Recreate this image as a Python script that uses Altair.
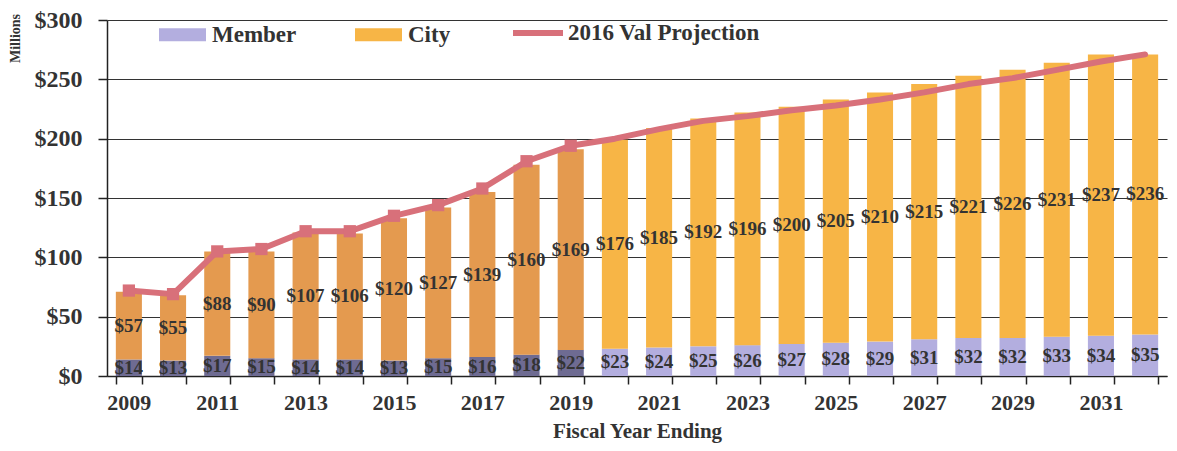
import altair as alt
import pandas as pd

years = [str(y) for y in range(2009, 2033)]
member = [14, 13, 17, 15, 14, 14, 13, 15, 16, 18, 22, 23, 24, 25, 26, 27, 28, 29, 31, 32, 32, 33, 34, 35]
city = [57, 55, 88, 90, 107, 106, 120, 127, 139, 160, 169, 176, 185, 192, 196, 200, 205, 210, 215, 221, 226, 231, 237, 236]
projection = [72, 69, 105, 107, 122, 122, 135, 144, 158, 181, 194, 200, 208, 215, 219, 224, 228, 233, 239, 246, 251, 258, 265, 271]
last_actual_year = 2019
y_ticks = [0, 50, 100, 150, 200, 250, 300]

FONT = "Liberation Serif"
TXT = "#333333"
LINE_COLOR = "#D8707A"

rows = []
for i, yr in enumerate(years):
    act = int(yr) <= last_actual_year
    rows.append(dict(year=yr, key="Member" + (" (actual)" if act else ""), value=member[i],
                     ord=0, mid=member[i] / 2, label=f"${member[i]}"))
    rows.append(dict(year=yr, key="City" + (" (actual)" if act else ""), value=city[i],
                     ord=1, mid=member[i] + city[i] / 2, label=f"${city[i]}"))
bars_df = pd.DataFrame(rows)
line_df = pd.DataFrame(dict(year=years, proj=projection,
                            series=["2016 Val Projection"] * len(years),
                            actual=[int(y) <= last_actual_year for y in years]))

x_scale = alt.Scale(paddingInner=0.41, paddingOuter=0.2)
y_scale = alt.Scale(domain=[0, 300], nice=False)

x_axis = alt.Axis(
    title="Fiscal Year Ending", labelAngle=0, tickBand="extent",
    labelExpr="toNumber(datum.value) % 2 == 1 ? datum.label : ''",
    labelFont=FONT, labelFontWeight="bold", labelFontSize=22, labelColor=TXT,
    titleFont=FONT, titleFontWeight="bold", titleFontSize=21, titleColor=TXT,
    domainColor="#222222", domainWidth=1.5, tickColor="#222222", tickWidth=1.5, tickSize=8,
    labelPadding=8, titlePadding=7, grid=False,
)
y_axis = alt.Axis(
    title="Millions", values=y_ticks, labelExpr="'$' + datum.value",
    labelFont=FONT, labelFontWeight="bold", labelFontSize=24, labelColor=TXT,
    titleFont=FONT, titleFontWeight="bold", titleFontSize=14, titleColor=TXT,
    titleAngle=-90, titleX=-92, titleY=18, titleAlign="center", titleBaseline="middle",
    domainColor="#222222", domainWidth=1.5, tickColor="#222222", tickWidth=1.5, tickSize=9,
    labelPadding=16, grid=True, gridColor="#333333", gridWidth=1.2,
)

x_enc = alt.X("year:N", sort=years, scale=x_scale, axis=x_axis)

bars = alt.Chart(bars_df).mark_bar().encode(
    x=x_enc,
    y=alt.Y("value:Q", stack="zero", scale=y_scale, axis=y_axis),
    order=alt.Order("ord:Q"),
    fill=alt.Fill(
        "key:N",
        scale=alt.Scale(domain=["Member", "City", "Member (actual)", "City (actual)"],
                        range=["#B3AEDF", "#F7B546", "#6E6B92", "#E49A4F"]),
        legend=alt.Legend(
            values=["Member", "City"], title=None, orient="none", direction="horizontal",
            legendX=52, legendY=-9, padding=0,
            symbolType="M-1,-0.28L1,-0.28L1,0.28L-1,0.28Z", symbolSize=2209,
            symbolStrokeWidth=0, symbolOpacity=1,
            labelFont=FONT, labelFontWeight="bold", labelFontSize=23, labelColor=TXT,
            labelOffset=6, columnPadding=58, labelLimit=0,
        ),
    ),
)

line = alt.Chart(line_df).mark_line(strokeWidth=6, strokeCap="round", strokeJoin="round").encode(
    x=x_enc,
    y=alt.Y("proj:Q", scale=y_scale, axis=y_axis),
    stroke=alt.Stroke(
        "series:N",
        scale=alt.Scale(domain=["2016 Val Projection"], range=[LINE_COLOR]),
        legend=alt.Legend(
            title=None, orient="none", direction="horizontal", legendX=403, legendY=-15, padding=0,
            symbolType="stroke", symbolSize=2500, symbolStrokeWidth=6,
            labelFont=FONT, labelFontWeight="bold", labelFontSize=23, labelColor=TXT,
            labelOffset=2, labelLimit=0,
        ),
    ),
)

points = alt.Chart(line_df).transform_filter("datum.actual").mark_point(
    shape="square", filled=True, size=150, opacity=1, color=LINE_COLOR
).encode(
    x=x_enc,
    y=alt.Y("proj:Q", scale=y_scale, axis=y_axis),
)

labels = alt.Chart(bars_df).mark_text(
    font=FONT, fontWeight="bold", fontSize=19, color=TXT, baseline="middle"
).encode(
    x=x_enc,
    y=alt.Y("mid:Q", scale=y_scale, axis=y_axis),
    text="label:N",
)

chart = alt.layer(bars, line, points, labels).properties(
    width=1060, height=356,
    padding={"left": 99, "top": 12, "right": 2, "bottom": 67},
    autosize=alt.AutoSizeParams(type="none"),
    background="white",
).configure_view(stroke=None)

chart.save("out.html", embed_options={"renderer": "svg", "actions": False})
